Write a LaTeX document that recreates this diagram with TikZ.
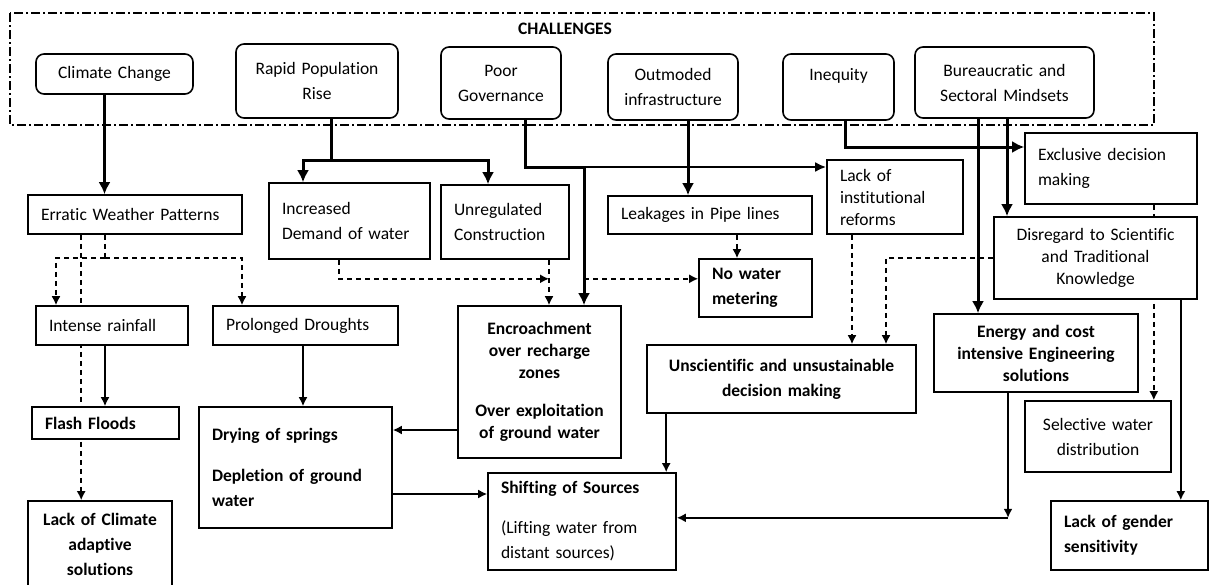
\documentclass[tikz,border=0pt]{standalone}
\usepackage{fontspec}
\setmainfont{Carlito}[RawFeature={-liga;-clig;-calt;-dlig}]
\usetikzlibrary{arrows.meta,backgrounds}

\begin{document}
\begin{tikzpicture}[x=1pt, y=-1pt,
box/.style={draw, fill=white, line width=1.6pt, inner xsep=13pt, inner ysep=0pt, align=left, font=\fontsize{17.5}{25}\selectfont},
cbox/.style={box, inner xsep=5pt, align=center},
rbox/.style={cbox, rounded corners=8pt},
bf/.style={font=\fontsize{17.5}{25}\selectfont\bfseries},
tight/.style={font=\fontsize{17.5}{22}\selectfont},
bftight/.style={font=\fontsize{17.5}{22}\selectfont\bfseries},
tip/.style={-{Latex[length=9pt,width=9pt]}},
big/.style={line width=3pt, -{Latex[length=12pt,width=12pt]}},
mid/.style={line width=2.2pt, -{Latex[length=11pt,width=10pt]}},
thin/.style={line width=1.7pt, tip},
dsh/.style={line width=1.6pt, dash pattern=on 5pt off 4pt}]
\useasboundingbox (0,0) rectangle (1212,584);
\draw[line width=1.4pt, dash pattern=on 9pt off 3pt on 2pt off 3pt] (10,13) rectangle (1154,125);
\node[font=\fontsize{17.5}{20}\selectfont\bfseries] (ttl) at (565,29) {CHALLENGES};

\node[rbox, text width=147pt, minimum height=40pt] (cc) at (114.5,74) {Climate Change};
\node[rbox, text width=152pt, minimum height=74pt] (rp) at (317,81) {Rapid Population\\Rise};
\node[rbox, text width=110pt, minimum height=72pt] (pg) at (501,83) {Poor\\Governance};
\node[rbox, text width=120pt, minimum height=66pt] (oi) at (673,87) {Outmoded\\infrastructure};
\node[rbox, text width=101pt, minimum height=66pt] (iq) at (838.5,87) {Inequity\\\mbox{}};
\node[rbox, text width=169pt, minimum height=71pt] (bm) at (1004.5,82.5) {Bureaucratic and\\Sectoral Mindsets};

\node[box, text width=188pt, minimum height=39pt] (ew) at (135,214.5) {Erratic Weather Patterns};
\node[box, text width=135pt, minimum height=76pt] (id) at (349.5,221) {Increased\\Demand of water};
\node[box, text width=102pt, minimum height=74pt] (uc) at (505,222) {Unregulated\\Construction};
\node[box, text width=178pt, minimum height=38pt] (lp) at (710,215) {Leakages in Pipe lines};
\node[box, tight, text width=110pt, minimum height=74pt] (li) at (895,197) {Lack of\\institutional\\reforms};
\node[box, text width=146pt, minimum height=71pt] (ed) at (1111,168.5) {Exclusive decision\\making};
\node[cbox, tight, text width=193pt, minimum height=82pt] (dk) at (1095.5,258) {Disregard to Scientific\\and Traditional\\Knowledge};
\node[box, bf, text width=87pt, minimum height=58pt] (nw) at (755.5,288) {No water\\metering};

\node[box, text width=126pt, minimum height=39pt] (ir) at (112,325.5) {Intense rainfall};
\node[box, text width=159pt, minimum height=39pt] (pd) at (305.5,325.5) {Prolonged Droughts};
\node[cbox, bftight, text width=153pt, minimum height=152pt] (en) at (539.5,382) {Encroachment\\over recharge\\zones\\[16pt]Over exploitation\\of ground water};
\node[cbox, bf, text width=259pt, minimum height=68pt] (ud) at (781.5,379) {Unscientific and unsustainable\\decision making};
\node[cbox, bftight, text width=194pt, minimum height=78pt] (ec) at (1036,353) {Energy and cost\\intensive Engineering\\solutions};

\node[box, bf, text width=121pt, minimum height=32pt] (ff) at (105.5,423) {Flash Floods};
\node[box, bf, text width=167pt, minimum height=121pt] (dr) at (295.5,467.5) {Drying of springs\\[16pt]Depletion of ground\\water};
\node[cbox, bf, text width=134pt, minimum height=87pt] (lc) at (100,544.5) {Lack of Climate\\adaptive\\solutions};
\node[box, text width=162pt, minimum height=97pt] (sh) at (582,521.5) {\textbf{Shifting of Sources}\\[15pt](Lifting water from\\distant sources)};
\node[cbox, text width=136pt, minimum height=71pt] (sw) at (1098,436.5) {Selective water\\distribution};
\node[box, bf, text width=131pt, minimum height=69pt] (lg) at (1129.5,535.5) {Lack of gender\\sensitivity};

\draw[big] ([xshift=-10pt]cc.south) -- ([xshift=-10pt]cc.south |- ew.north);
\draw[line width=3pt] ([xshift=14pt]rp.south) -- ++(0,42) coordinate (rpj);
\draw[big] (rpj) -| ([xshift=-46.5pt]id.north);
\draw[big] (rpj) -| ([xshift=-17pt]uc.north);
\coordinate (pgj) at (584,167);
\draw[big] ([xshift=24pt]pg.south) |- (pgj) -- (pgj |- en.north);
\draw[mid] (pgj) -- (pgj -| li.west);
\draw[big] ([xshift=15pt]oi.south) -- ([xshift=15pt]oi.south |- lp.north);
\draw[big] ([xshift=6.5pt]iq.south) |- ([yshift=21.5pt]ed.west);
\draw[big] ([xshift=-26.5pt]bm.south) -- ([xshift=-26.5pt]bm.south |- ec.north);
\draw[big] ([xshift=2.5pt]bm.south) -- ([xshift=2.5pt]bm.south |- dk.north);

\begin{scope}[on background layer]
\draw[dsh, tip] ([xshift=54pt]ew.south west) -- ([xshift=54pt]ew.south west |- lc.north);
\draw[dsh, tip] ([xshift=-44pt]ed.south east) -- ([xshift=-44pt]ed.south east |- sw.north);
\end{scope}
\draw[dsh] ([xshift=-30pt]ew.south) -- ++(0,23) coordinate (ewj);
\draw[dsh, tip] (ewj) -| ([xshift=-56pt]ir.north);
\draw[dsh, tip] (ewj) -| ([xshift=-63.5pt]pd.north);
\draw[thin] ([xshift=-7pt]ir.south) -- ([xshift=-7pt]ir.south |- ff.north);
\draw[thin] ([xshift=-2.5pt]pd.south) -- ([xshift=-2.5pt]pd.south |- dr.north);
\coordinate (ucj) at ([xshift=44pt,yshift=-19pt]uc.south);
\draw[dsh, tip] ([xshift=44pt]uc.south) -- ([xshift=44pt]uc.south |- en.north);
\draw[dsh, tip] ([xshift=-10.5pt]id.south) |- (ucj);
\draw[dsh, tip] (pgj |- ucj) -- (ucj -| nw.west);
\draw[dsh, tip] ([xshift=27pt]lp.south) -- ([xshift=27pt]lp.south |- nw.north);
\draw[dsh, tip] ([xshift=-43pt]li.south) -- ([xshift=-43pt]li.south |- ud.north);
\draw[dsh, tip] (dk.west) -| ([xshift=104.5pt]ud.north);
\draw[thin] ([xshift=-17pt]dk.south east) -- ([xshift=-17pt]dk.south east |- lg.north);
\draw[thin] ([xshift=-28pt]ec.south) -- ++(0,125) coordinate (ecj);
\draw[thin] (ecj) -- (ecj -| sh.east);
\draw[thin] ([xshift=20pt]ud.south west) -- ([xshift=20pt]ud.south west |- sh.north);
\draw[thin] ([yshift=-48pt]en.west) -- ([yshift=-48pt]en.west -| dr.east);
\draw[thin] ([yshift=-26.5pt]dr.east) -- ([yshift=-26.5pt]dr.east -| sh.west);
\end{tikzpicture}
\end{document}
